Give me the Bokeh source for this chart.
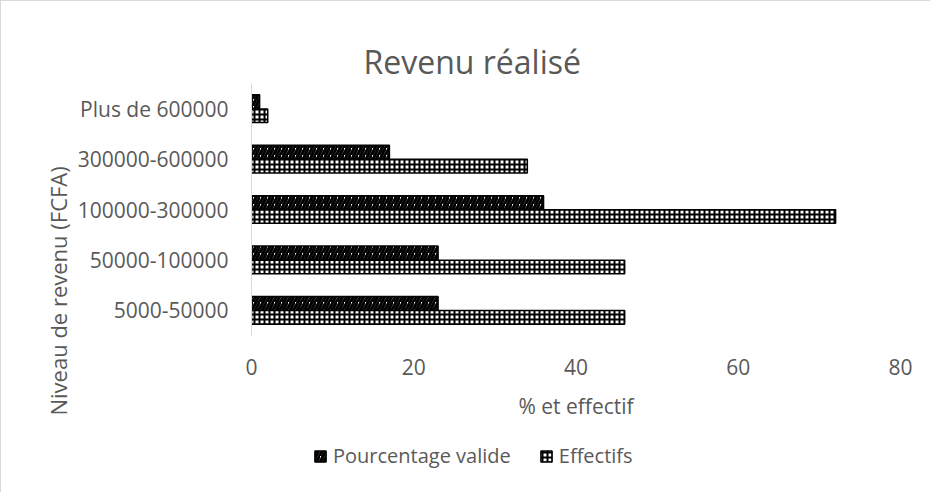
import math
from bokeh.plotting import figure
from bokeh.layouts import column
from bokeh.models import FactorRange, Range1d, Title, Legend, LegendItem, FixedTicker
from bokeh.transform import dodge
from bokeh.embed import file_html
from bokeh.resources import INLINE

categories = ["5000-50000", "50000-100000", "100000-300000", "300000-600000", "Plus de 600000"]
pourcentage = [23, 23, 36, 17, 1]
effectifs = [46, 46, 72, 34, 2]
x_ticks = [0, 20, 40, 60, 80]
series_names = ["Pourcentage valide", "Effectifs"]

FONT = "Open Sans"
GREY = "#595959"
BORDER = "1px solid #d9d9d9"

STYLE_PCT = dict(fill_color="white", line_color="black", line_width=1.5,
                 hatch_pattern="/", hatch_color="black", hatch_weight=3, hatch_scale=7)
STYLE_EFF = dict(fill_color="white", line_color="black", line_width=1.5,
                 hatch_pattern="+", hatch_color="black", hatch_weight=2, hatch_scale=5)

p = figure(width=930, height=429,
           y_range=FactorRange(factors=categories, range_padding=0, factor_padding=0),
           x_range=Range1d(0, 80),
           output_backend="svg", toolbar_location=None,
           min_border_left=250, min_border_right=31,
           min_border_top=82, min_border_bottom=95)
p.styles = {"border-left": BORDER, "border-top": BORDER}

data = dict(cat=categories, pct=pourcentage, eff=effectifs)

p.hbar(y=dodge("cat", 0.14, range=p.y_range), right="pct", left=0, height=0.27,
       source=data, **STYLE_PCT)
p.hbar(y=dodge("cat", -0.14, range=p.y_range), right="eff", left=0, height=0.27,
       source=data, **STYLE_EFF)

p.title.text = "Revenu réalisé"
p.title.text_font = FONT
p.title.text_font_size = "32px"
p.title.text_font_style = "normal"
p.title.text_color = GREY
p.title.align = "left"
p.title.offset = 112
p.title.standoff = 1

p.xgrid.visible = False
p.ygrid.visible = False
p.outline_line_color = None

xa = p.xaxis[0]
xa.ticker = FixedTicker(ticks=x_ticks)
xa.axis_line_color = None
xa.major_tick_line_color = None
xa.minor_tick_line_color = None
xa.major_label_text_font = FONT
xa.major_label_text_font_size = "21px"
xa.major_label_text_color = GREY
xa.major_label_standoff = 17
xa.axis_label = "% et effectif"
xa.axis_label_text_font = FONT
xa.axis_label_text_font_size = "21px"
xa.axis_label_text_font_style = "normal"
xa.axis_label_text_color = GREY
xa.axis_label_standoff = 14

ya = p.yaxis[0]
ya.axis_line_color = "#d9d9d9"
ya.axis_line_width = 1
ya.major_tick_line_color = None
ya.minor_tick_line_color = None
ya.major_tick_out = 0
ya.major_tick_in = 0
ya.major_label_text_font = FONT
ya.major_label_text_font_size = "21px"
ya.major_label_text_color = GREY
ya.major_label_standoff = 23

ytitle = Title(text="Niveau de revenu (FCFA)", align="left", offset=-80, standoff=4,
               text_font=FONT, text_font_size="22px", text_font_style="normal",
               text_color=GREY)
p.add_layout(ytitle, "left")

# Legend strip below the chart (hidden copies of the two series feed the legend swatches)
lp = figure(width=930, height=63, x_range=Range1d(0, 1), y_range=Range1d(0, 1),
            output_backend="svg", toolbar_location=None,
            min_border_left=0, min_border_right=0, min_border_top=0, min_border_bottom=0)
lp.styles = {"border-left": BORDER}
lp.axis.visible = False
lp.grid.visible = False
lp.outline_line_color = None
l1 = lp.hbar(y="cat", right="pct", left=0, height=0.1, source=dict(cat=[0.5] * len(pourcentage), pct=pourcentage),
             visible=False, **STYLE_PCT)
l2 = lp.hbar(y="cat", right="eff", left=0, height=0.1, source=dict(cat=[0.5] * len(effectifs), eff=effectifs),
             visible=False, **STYLE_EFF)

legend = Legend(items=[LegendItem(label=series_names[0], renderers=[l1]),
                       LegendItem(label=series_names[1], renderers=[l2])],
                orientation="horizontal", location=(62, 23),
                border_line_color=None, background_fill_alpha=0,
                padding=0, spacing=28, label_standoff=6, margin=0,
                glyph_width=14, glyph_height=14,
                inactive_fill_alpha=0,
                label_text_font=FONT, label_text_font_size="20px",
                label_text_color=GREY, label_height=20)
lp.add_layout(legend)

layout = column(p, lp, spacing=0)
open("out.html", "w").write(file_html(layout, INLINE))
